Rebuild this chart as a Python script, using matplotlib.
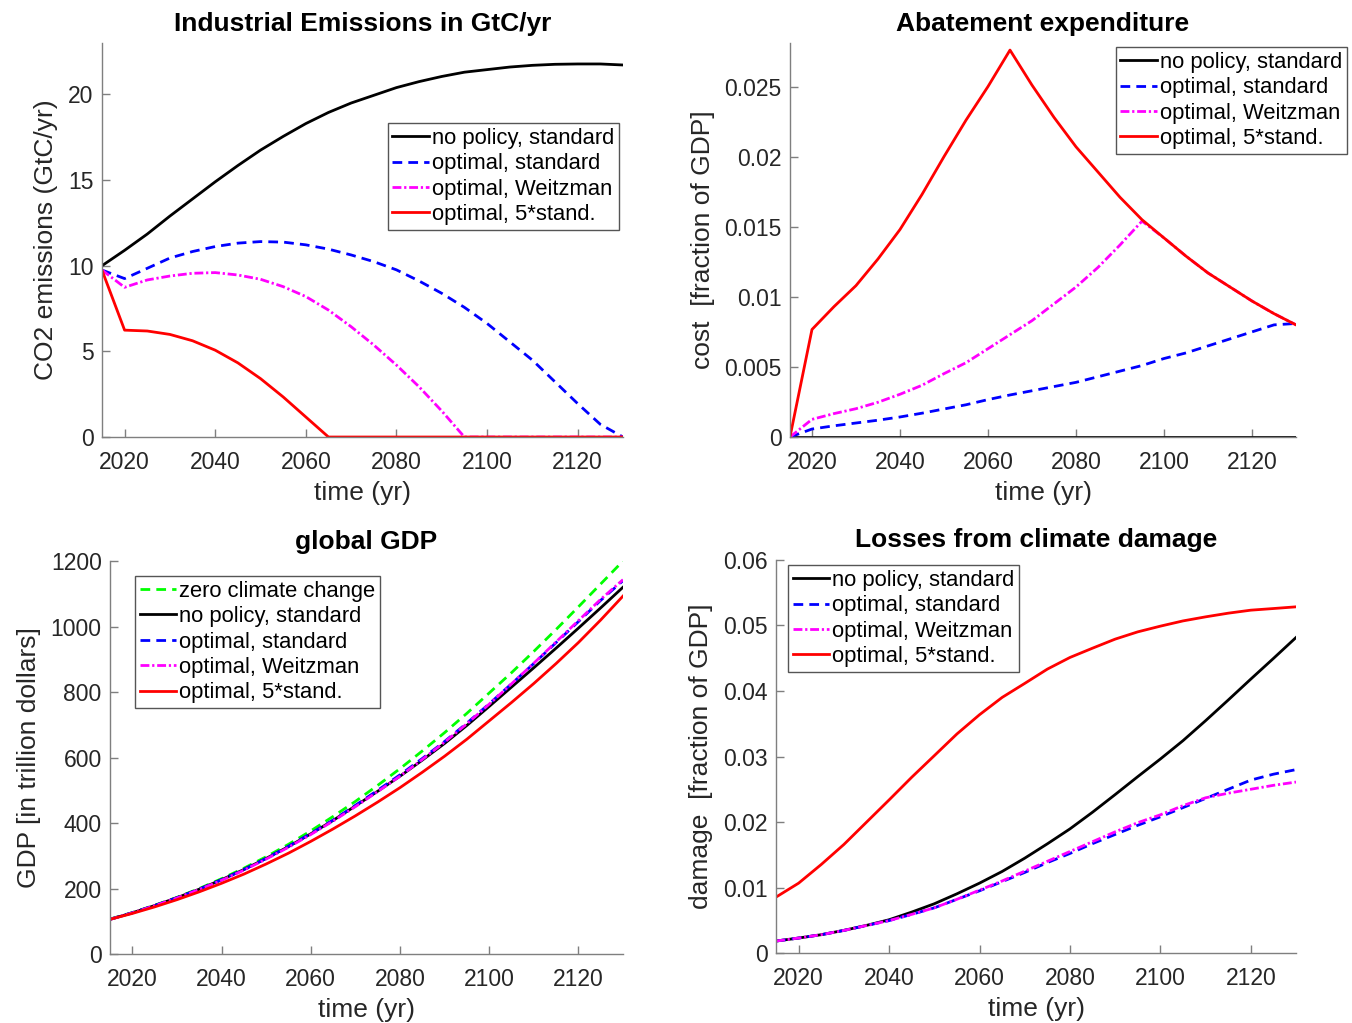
import numpy as np
import matplotlib.pyplot as plt

plt.rcParams['font.family'] = ['Liberation Sans', 'DejaVu Sans']

# time grid (5 year steps)
years = list(range(2015, 2131, 5))

# industrial emissions GtC/yr
emis_nopol = [10.0, 10.9, 11.85, 12.9, 13.9, 14.9, 15.85, 16.75, 17.55, 18.3, 18.95, 19.5,
              19.95, 20.4, 20.75, 21.05, 21.3, 21.45, 21.6, 21.7, 21.76, 21.78, 21.78, 21.72]
emis_opt = [9.75, 9.25, 9.85, 10.45, 10.83, 11.12, 11.32, 11.41, 11.38, 11.22, 10.97, 10.63,
            10.24, 9.76, 9.11, 8.39, 7.57, 6.63, 5.56, 4.49, 3.22, 1.95, 0.74, 0.0]
emis_weitz = [9.75, 8.74, 9.17, 9.4, 9.56, 9.6, 9.46, 9.21, 8.78, 8.2, 7.41, 6.44,
              5.37, 4.2, 2.93, 1.52, 0.0, 0.0, 0.0, 0.0, 0.0, 0.0, 0.0, 0.0]
emis_5x = [9.75, 6.24, 6.19, 5.99, 5.62, 5.07, 4.33, 3.41, 2.34, 1.17, 0.0, 0.0,
           0.0, 0.0, 0.0, 0.0, 0.0, 0.0, 0.0, 0.0, 0.0, 0.0, 0.0, 0.0]

# abatement expenditure, fraction of GDP
abat_nopol = [0.0] * 24
abat_opt = [0.0, 0.00057, 0.0008, 0.001, 0.0012, 0.00143, 0.0017, 0.002, 0.0023, 0.00267,
            0.003, 0.0033, 0.0036, 0.0039, 0.0043, 0.0047, 0.0051, 0.0056, 0.006, 0.0065,
            0.007, 0.0075, 0.008, 0.0081]
abat_weitz = [0.0, 0.00126, 0.00167, 0.00202, 0.00248, 0.00305, 0.00369, 0.00452, 0.0053,
              0.0063, 0.0073, 0.0083, 0.0095, 0.0107, 0.0121, 0.0137, 0.0154, 0.0142, 0.0129,
              0.0117, 0.0107, 0.0097, 0.0088, 0.0080]
abat_5x = [0.0, 0.00767, 0.0093, 0.0108, 0.0127, 0.0148, 0.0173, 0.02, 0.0226, 0.025,
           0.0276, 0.0251, 0.0228, 0.0207, 0.0189, 0.0171, 0.0155, 0.0142, 0.0129, 0.0117,
           0.0107, 0.0097, 0.0088, 0.0080]

# global GDP, trillion dollars
gdp_zero = [107, 126.5, 149, 173, 200, 230, 262, 297, 335, 376, 420, 466,
            515, 566, 620, 676, 735, 797, 859, 924, 991, 1060, 1130, 1200]
gdp_nopol = [106, 126, 148, 172, 198, 227, 258, 292, 328, 367, 408, 452,
             497, 543, 592, 643, 698, 756, 815, 874, 934, 995, 1057, 1120]
gdp_opt = [106, 126, 148, 172, 198, 227, 258, 292, 329, 368, 409, 454,
           500, 547, 597, 649, 705, 764, 825, 887, 951, 1015, 1080, 1140]
gdp_weitz = [106, 125.5, 147.5, 171, 197, 225, 256, 290, 326, 365, 406, 450,
             496, 543, 594, 647, 703, 763, 825, 888, 953, 1018, 1083, 1143]
gdp_5x = [106, 124, 144, 166, 190, 216, 244, 275, 308, 344, 382, 422,
          464, 508, 555, 604, 656, 712, 768, 826, 887, 951, 1020, 1093]

# climate damage, fraction of GDP
dam_nopol = [0.00183, 0.00229, 0.0028, 0.00346, 0.00422, 0.00508, 0.00625, 0.00752, 0.00904,
             0.01067, 0.01245, 0.01448, 0.01667, 0.01895, 0.0215, 0.02419, 0.02693, 0.02962,
             0.03242, 0.03547, 0.03862, 0.04182, 0.04497, 0.04817]
dam_opt = [0.00183, 0.00229, 0.0028, 0.00345, 0.0042, 0.00495, 0.0059, 0.0069, 0.0082, 0.0095,
           0.0109, 0.0123, 0.0138, 0.0152, 0.0167, 0.0181, 0.0195, 0.0208, 0.0222, 0.0236,
           0.025, 0.0264, 0.0273, 0.028]
dam_weitz = [0.00183, 0.00229, 0.0028, 0.00345, 0.0042, 0.00495, 0.0059, 0.0069, 0.0082, 0.0096,
             0.011, 0.0125, 0.014, 0.0155, 0.017, 0.0185, 0.0199, 0.0211, 0.0225, 0.0237,
             0.0244, 0.025, 0.0256, 0.0261]
dam_5x = [0.00854, 0.01067, 0.01352, 0.01657, 0.01997, 0.02337, 0.02683, 0.03013, 0.03344,
          0.03638, 0.03902, 0.04116, 0.04334, 0.04512, 0.04654, 0.04792, 0.04903, 0.0499,
          0.0507, 0.05132, 0.05188, 0.05234, 0.05259, 0.05285]

lab_nopol = 'no policy, standard'
lab_opt = 'optimal, standard'
lab_weitz = 'optimal, Weitzman'
lab_5x = 'optimal, 5*stand.'

LW = 2.0
TXT = '#262626'
SPINE = '#7f7f7f'
FS_TICK = 16.5
FS_LEG = 15.8
FS_LAB = 19


def plot_set(ax, nopol, opt, weitz, fivex):
    ax.plot(years, nopol, color='k', lw=LW, label=lab_nopol)
    ax.plot(years, opt, color=(0, 0, 1), lw=LW, dashes=(3.5, 2.2), label=lab_opt)
    ax.plot(years, weitz, color=(1, 0, 1), lw=LW, dashes=(3.2, 1.0, 0.8, 1.0), label=lab_weitz)
    ax.plot(years, fivex, color=(1, 0, 0), lw=LW, label=lab_5x)


def style(ax, title, ylabel):
    ax.set_xlim(2015, 2130)
    ax.set_xticks([2020, 2040, 2060, 2080, 2100, 2120])
    for s in ['top', 'right']:
        ax.spines[s].set_visible(False)
    for s in ['left', 'bottom']:
        ax.spines[s].set_color(SPINE)
        ax.spines[s].set_linewidth(1.0)
    ax.tick_params(direction='in', length=6, width=1.0, color=SPINE,
                   labelsize=FS_TICK, labelcolor=TXT)
    ax.tick_params(axis='x', pad=10)
    ax.tick_params(axis='y', pad=6)
    ax.set_title(title, fontsize=19, fontweight='bold', pad=9)
    ax.set_xlabel('time (yr)', fontsize=FS_LAB, color=TXT, labelpad=5)
    ax.set_ylabel(ylabel, fontsize=FS_LAB, color=TXT, labelpad=7)


def legend(ax, loc, anchor):
    leg = ax.legend(loc=loc, bbox_to_anchor=anchor, fontsize=FS_LEG, frameon=True,
                    fancybox=False, edgecolor='#555555', framealpha=1.0,
                    handlelength=1.65, handletextpad=0.15, labelspacing=0.2,
                    borderpad=0.22, borderaxespad=0.0)
    leg.get_frame().set_linewidth(1.0)
    for t in leg.get_texts():
        t.set_color('k')
    return leg


fig = plt.figure(figsize=(13.52, 10.23), dpi=100)

# top left: emissions
ax1 = fig.add_axes([0.0754, 0.5728, 0.3854, 0.3851])
plot_set(ax1, emis_nopol, emis_opt, emis_weitz, emis_5x)
style(ax1, 'Industrial Emissions in GtC/yr', 'CO2 emissions (GtC/yr)')
ax1.set_ylim(0, 23)
ax1.set_yticks([0, 5, 10, 15, 20])
legend(ax1, 'upper right', (0.9923, 0.797))

# top right: abatement
ax2 = fig.add_axes([0.5843, 0.5728, 0.3743, 0.3851])
plot_set(ax2, abat_nopol, abat_opt, abat_weitz, abat_5x)
style(ax2, 'Abatement expenditure', 'cost  [fraction of GDP]')
ax2.set_ylim(0, 0.0281)
ax2.set_yticks([0, 0.005, 0.01, 0.015, 0.02, 0.025])
ax2.set_yticklabels(['0', '0.005', '0.01', '0.015', '0.02', '0.025'])
legend(ax2, 'upper right', (1.1008, 0.99))

# bottom left: GDP
ax3 = fig.add_axes([0.0814, 0.0674, 0.3794, 0.3842])
ax3.plot(years, gdp_zero, color=(0, 1, 0), lw=LW, dashes=(3.5, 2.2), label='zero climate change')
plot_set(ax3, gdp_nopol, gdp_opt, gdp_weitz, gdp_5x)
style(ax3, 'global GDP', 'GDP [in trillion dollars]')
ax3.set_ylim(0, 1200)
ax3.set_yticks(np.arange(0, 1201, 200))
legend(ax3, 'upper left', (0.0487, 0.962))

# bottom right: damages
ax4 = fig.add_axes([0.5740, 0.0684, 0.3846, 0.3842])
plot_set(ax4, dam_nopol, dam_opt, dam_weitz, dam_5x)
style(ax4, 'Losses from climate damage', 'damage  [fraction of GDP]')
ax4.set_ylim(0, 0.06)
ax4.set_yticks([0, 0.01, 0.02, 0.03, 0.04, 0.05, 0.06])
ax4.set_yticklabels(['0', '0.01', '0.02', '0.03', '0.04', '0.05', '0.06'])
legend(ax4, 'upper left', (0.023, 0.987))

fig.savefig('out.png', dpi=100)
